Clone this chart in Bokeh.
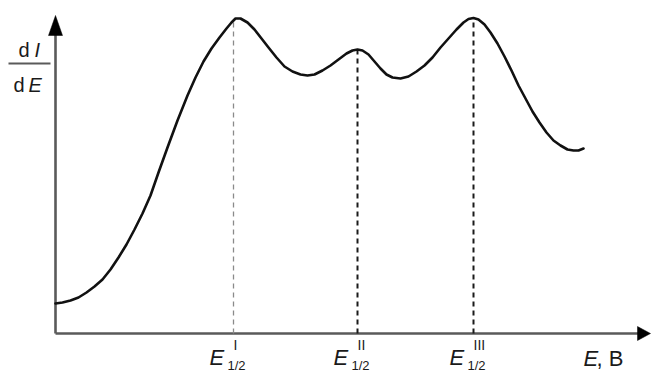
from bokeh.plotting import figure
from bokeh.models import Range1d, Label
from bokeh.embed import file_html
from bokeh.resources import INLINE

# ---- data (arbitrary units) ----
E_vals = [0.0, 0.7, 1.5, 2.3, 3.1, 3.9, 4.7, 5.5, 6.3, 7.1, 7.9, 8.7, 9.5, 10.3,
          11.2, 12.2, 13.2, 14.0, 14.8, 15.6, 16.4, 17.1, 17.6, 18.0, 18.5, 19.2, 19.9,
          20.6, 21.3, 22.1, 22.9, 23.7, 24.5, 25.2, 25.9, 26.7, 27.5, 28.3, 29.1,
          29.7, 30.2, 30.7, 31.3, 31.9, 32.5, 33.1, 33.7, 34.5, 35.3, 36.1, 36.9,
          37.7, 38.5, 39.3, 40.1, 40.8, 41.3, 41.8, 42.3, 42.9, 43.5, 44.2, 44.9,
          45.6, 46.3, 47.0, 47.7, 48.4, 49.1, 49.8, 50.5, 51.2, 51.8, 52.3, 52.8]
dIdE_vals = [3.0, 3.1, 3.3, 3.6, 4.1, 4.7, 5.4, 6.4, 7.6, 8.9, 10.4, 12.0, 13.8, 16.1,
             18.6, 21.3, 23.8, 25.6, 27.2, 28.5, 29.6, 30.5, 31.1, 31.5, 31.5, 31.1, 30.4,
             29.5, 28.6, 27.6, 26.7, 26.2, 25.9, 25.8, 25.9, 26.3, 26.8, 27.4, 28.0,
             28.3, 28.4, 28.3, 27.9, 27.2, 26.5, 25.9, 25.6, 25.5, 25.7, 26.2, 26.8,
             27.6, 28.6, 29.5, 30.4, 31.1, 31.45, 31.55, 31.4, 30.9, 30.1, 29.0, 27.7,
             26.3, 24.8, 23.5, 22.2, 21.1, 20.1, 19.3, 18.8, 18.4, 18.3, 18.3, 18.5]
E_half = [17.8, 30.2, 41.8]
peak_vals = [31.5, 28.4, 31.55]
half_sup = ["I", "II", "III"]
x_label = ", В"

W, H = 651, 374
p = figure(width=W, height=H, output_backend="svg", toolbar_location=None,
           x_axis_type=None, y_axis_type=None, min_border=0,
           x_range=Range1d(-5.5, 59.6), y_range=Range1d(-4.1, 33.3))
p.outline_line_color = None
p.xgrid.visible = False
p.ygrid.visible = False
p.background_fill_color = "white"
p.border_fill_color = "white"

FONT = "Liberation Sans"
TXT = "#1a1a1a"

# axes
p.line([0, 0], [0, 30.0], line_color="#5a5a5a", line_width=2.6)
p.line([0, 58.4], [0, 0], line_color="#5a5a5a", line_width=2.6)
p.patch([0, -0.7, 0.7], [31.8, 29.8, 29.8], fill_color="black", line_color="black", line_width=0.5)
p.patch([59.5, 58.2, 58.2], [0, 0.7, -0.7], fill_color="black", line_color="black", line_width=0.5)

# dashed lines
colors = ["#8a8a8a", "#1a1a1a", "#1a1a1a"]
widths = [1.3, 2.0, 2.0]
for xe, pv, c, w in zip(E_half, peak_vals, colors, widths):
    p.line([xe, xe], [0, pv], line_color=c, line_width=w, line_dash="5 4")

# curve
p.line(E_vals, dIdE_vals, line_color="#111111", line_width=2.6, line_join="round", line_cap="round")

def lab(x, y, t, size, style="normal", align="left"):
    p.add_layout(Label(x=x, y=y, text=t, text_font=FONT, text_font_size=f"{size}px",
                       text_font_style=style, text_color=TXT, text_align=align,
                       text_baseline="alphabetic"))

# y label as fraction
lab(-3.7, 28.4, "d", 20)
lab(-2.1, 28.4, "I", 20, "italic")
p.line([-4.7, -0.5], [27.0, 27.0], line_color="#5a5a5a", line_width=2.2)
lab(-4.2, 24.9, "d", 20)
lab(-2.7, 24.9, "E", 20, "italic")

# E_1/2 labels
for xe, s in zip(E_half, half_sup):
    lab(xe - 2.4, -2.4, "E", 22, "italic")
    lab(xe + 0.0, -1.1, s, 14)
    lab(xe - 0.6, -3.2, "1/2", 13)

# x label
lab(52.8, -2.5, "E", 22, "italic")
lab(54.1, -2.5, x_label, 22)

open("out.html", "w").write(file_html(p, INLINE))
